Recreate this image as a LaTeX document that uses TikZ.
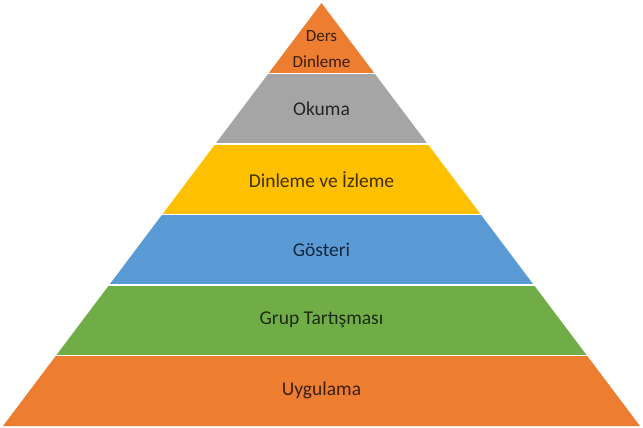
\documentclass[tikz,border=0pt]{standalone}
\usepackage{fontspec}
\setmainfont{Carlito}

\definecolor{pyrorange}{HTML}{ED7D31}
\definecolor{pyrgray}{HTML}{A5A5A5}
\definecolor{pyrgold}{HTML}{FFC000}
\definecolor{pyrblue}{HTML}{5B9BD5}
\definecolor{pyrgreen}{HTML}{70AD47}
\definecolor{txtorange}{HTML}{3B1F0C}
\definecolor{txtgray}{HTML}{262626}
\definecolor{txtgold}{HTML}{3F3000}
\definecolor{txtblue}{HTML}{14263D}
\definecolor{txtgreen}{HTML}{1C2B11}

\begin{document}
\begin{tikzpicture}[x=1pt, y=-1pt,
    layer/.style = {draw = white, line width = 1.6pt},
    label/.style = {font = \fontsize{19.5}{23}\selectfont, align = center}]

    \useasboundingbox (0, 0) rectangle (643, 428);

    \def\h{70.5}   % layer height
    \def\w{53.083} % half-width step per layer
    \def\cx{321.5}
    \def\ty{3}

    % pyramid layers, top to bottom
    \foreach \i/\c in {0/pyrorange, 1/pyrgray, 2/pyrgold, 3/pyrblue, 4/pyrgreen, 5/pyrorange} {
        \fill [\c] (\cx - \i*\w, \ty + \i*\h) -- (\cx + \i*\w, \ty + \i*\h)
            -- (\cx + \i*\w + \w, \ty + \i*\h + \h) -- (\cx - \i*\w - \w, \ty + \i*\h + \h) -- cycle;
    }
    % white separators
    \foreach \i in {1,...,5} {
        \draw [layer] (\cx - \i*\w - 1, \ty + \i*\h) -- (\cx + \i*\w + 1, \ty + \i*\h);
    }

    \node [label, text = txtorange, font = \fontsize{17}{26}\selectfont] (ders) at (\cx, 49) {Ders\\Dinleme};
    \node [label, text = txtgray] (okuma) at (\cx, \ty + 1.5*\h) {Okuma};
    \node [label, text = txtgold] (izleme) at (\cx, \ty + 2.5*\h) {Dinleme ve İzleme};
    \node [label, text = txtblue] (gosteri) at (\cx, \ty + 3.5*\h) {Gösteri};
    \node [label, text = txtgreen] (grup) at (\cx, \ty + 4.5*\h) {Grup Tartışması};
    \node [label, text = txtorange] (uygulama) at (\cx, \ty + 5.5*\h) {Uygulama};

\end{tikzpicture}
\end{document}
